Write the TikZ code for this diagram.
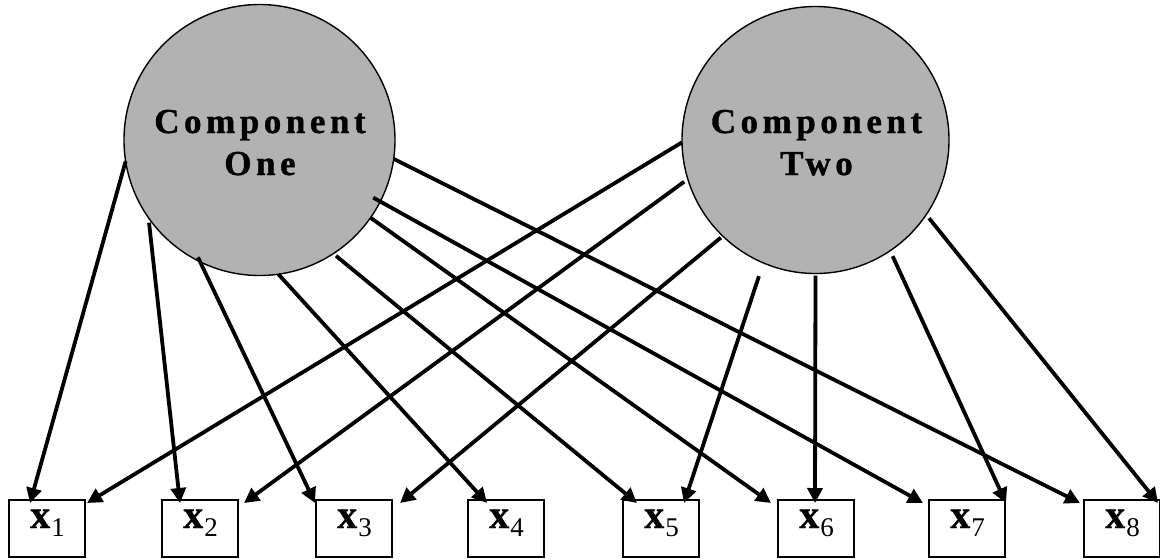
\documentclass[tikz,border=0pt]{standalone}
\usepackage{fontspec}
\setmainfont{Liberation Serif}
\newfontfamily\compfont{Liberation Serif}[LetterSpace=13,BoldFeatures={FakeBold=1}]
\newfontfamily\labfont{Liberation Serif}[BoldFeatures={FakeBold=0.8}]
\usetikzlibrary{arrows.meta,calc}
\begin{document}
\begin{tikzpicture}[x=1pt,y=-1pt,
  comp/.style={circle, draw, line width=1.4pt, fill=black!30, inner sep=0pt, outer sep=0pt},
  ctext/.style={font=\compfont\bfseries\fontsize{35}{35}\selectfont, inner sep=0pt, anchor=base},
  obs/.style={rectangle, draw, line width=1.8pt, minimum width=76pt, minimum height=57pt, inner sep=0pt, outer sep=0pt},
  lab/.style={font=\labfont\fontsize{40}{40}\selectfont\bfseries, inner sep=0pt, anchor=base},
  arr/.style={line width=3.8pt, -{Triangle[length=15pt,width=15pt]}}
]
\useasboundingbox (0,0) rectangle (1160,558);
\fill[white] (0,0) rectangle (1160,558);

% components
\node[comp, minimum size=271pt] (c1) at (259.5,140) {};
\node[comp, minimum size=267pt] (c2) at (815.5,140) {};
\node[ctext] (c1a) at (260,133) {Component};
\node[ctext] (c1b) at (260,175) {One};
\node[ctext] (c2a) at (816.5,133) {Component};
\node[ctext] (c2b) at (816.5,175) {Two};

% observed variables
\foreach \i/\xx in {1/47,2/200,3/354,4/506,5/661,6/816,7/967,8/1122}{
  \node[obs] (b\i) at (\xx,528.5) {};
  \node[lab] (l\i) at (\xx+0.5,528) {x\raisebox{-8pt}{\mdseries\fontsize{27}{27}\selectfont\kern1pt\i}};
}

% loadings from component one
\draw[arr] (c1.-171.5) -- ([xshift=21pt,yshift=-3pt]b1.north west);
\draw[arr, shorten <=5pt] (c1.-145.9) -- ([xshift=18pt,yshift=-3pt]b2.north west);
\draw[arr, shorten <=-5pt] (c1.-116.2) -- ([xshift=-1pt,yshift=-3pt]b3.north west);
\draw[arr] (c1.-82.6) -- ([xshift=19pt,yshift=-3pt]b4.north west);
\draw[arr, shorten <=3.5pt] (c1.-57.2) -- ([xshift=14pt,yshift=-3pt]b5.north west);
\draw[arr] (c1.-35.1) -- ([xshift=-7pt,yshift=-3pt]b6.north west);
\draw[arr, shorten <=-8pt] (c1.-27.1) -- ([xshift=-6pt,yshift=-3pt]b7.north west);
\draw[arr] (c1.-8.9) -- ([xshift=-4pt,yshift=-3pt]b8.north west);

% loadings from component two
\draw[arr] (c2.-179.1) -- ([xshift=78pt,yshift=-3pt]b1.north west);
\draw[arr, shorten <=4.5pt] (c2.-163.6) -- ([xshift=82pt,yshift=-3pt]b2.north west);
\draw[arr, shorten <=2.5pt] (c2.-134.6) -- ([xshift=84pt,yshift=-3pt]b3.north west);
\draw[arr, shorten <=14pt] (c2.-113.4) -- ([xshift=61pt,yshift=-3pt]b5.north west);
\draw[arr, shorten <=2pt] (c2.-90) -- ([xshift=37pt,yshift=-3pt]b6.north west);
\draw[arr, shorten <=6pt] (c2.-56.8) -- ([xshift=77pt,yshift=-3pt]b7.north west);
\draw[arr, shorten <=4.5pt] (c2.-34.8) -- ([xshift=74pt,yshift=-3pt]b8.north west);
\end{tikzpicture}
\end{document}
